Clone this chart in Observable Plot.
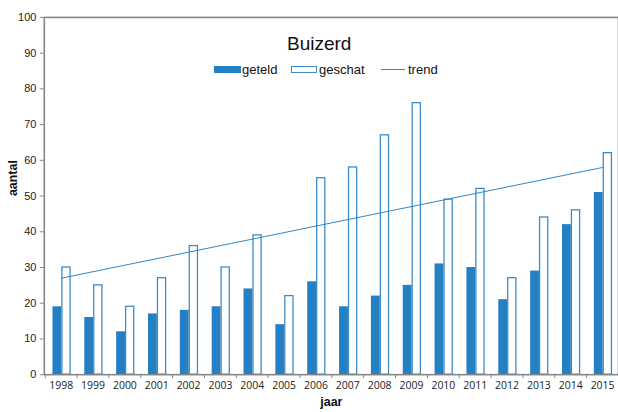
<!DOCTYPE html>
<html>
<head>
<meta charset="utf-8">
<script src="https://cdn.jsdelivr.net/npm/d3@7"></script>
<script src="https://cdn.jsdelivr.net/npm/@observablehq/plot@0.6"></script>
<style>
  html, body { margin: 0; padding: 0; background: #fff; overflow: hidden; }
  #wrap { position: relative; width: 618px; height: 412px; overflow: hidden; }
  .ov { position: absolute; font-family: "Liberation Sans", Arial, sans-serif; color: #111; white-space: nowrap; }
  .title { font-size: 19px; }
  .leg { font-size: 13px; }
  .sw { position: absolute; box-sizing: border-box; }
</style>
</head>
<body>
<div id="wrap">
  <div id="chart"></div>
  <div class="ov title" style="left:287px; top:33px;">Buizerd</div>
  <div class="sw" style="left:214px; top:66px; width:27px; height:7px; background:#2580c3;"></div>
  <div class="ov leg" style="left:242px; top:62px;">geteld</div>
  <div class="sw" style="left:291px; top:66px; width:26px; height:7px; border:1.3px solid #3d8bc9; background:#fff;"></div>
  <div class="ov leg" style="left:319px; top:62px;">geschat</div>
  <div class="sw" style="left:381px; top:69px; width:24px; height:1px; background:#2e86c9;"></div>
  <div class="ov leg" style="left:408px; top:62px;">trend</div>
</div>
<script>
const years = [1998,1999,2000,2001,2002,2003,2004,2005,2006,2007,2008,2009,2010,2011,2012,2013,2014,2015];
const geteld = [19,16,12,17,18,19,24,14,26,19,22,25,31,30,21,29,42,51];
const geschat = [30,25,19,27,36,30,39,22,55,58,67,76,49,52,27,44,46,62];
const trendYears = [1998, 2015];
const trendValues = [27, 58];
const yTicks = [0,10,20,30,40,50,60,70,80,90,100];

const getData = years.map((y, i) => ({year: String(y), value: geteld[i]}));
const schatData = years.map((y, i) => ({year: String(y), value: geschat[i]}));
const trendData = trendYears.map((y, i) => ({year: String(y), value: trendValues[i]}));

const chart = Plot.plot({
  width: 621,
  height: 412,
  marginLeft: 44,
  marginRight: 0,
  marginTop: 17,
  marginBottom: 36,
  style: {fontFamily: "Liberation Sans, Arial, sans-serif", color: "#222", background: "#fff"},
  x: {type: "band", domain: years.map(String), padding: 0},
  y: {domain: [0, 100]},
  marks: [
    Plot.barY(getData, {x: "year", y: "value", fill: "#2580c3", insetLeft: 7.7, insetRight: 15.4}),
    Plot.barY(schatData, {x: "year", y: "value", fill: "#fff", stroke: "#3d8bc9", strokeWidth: 1.3, insetLeft: 17.2, insetRight: 6.6}),
    Plot.line(trendData, {x: "year", y: "value", stroke: "#2e86c9", strokeWidth: 1}),
    Plot.frame({stroke: "#858585", strokeWidth: 1.6}),
    Plot.axisY({ticks: yTicks, tickSize: 4, tickPadding: 4, fontSize: 11, label: null, stroke: "#858585"}),
    Plot.axisX({tickSize: 0, tickPadding: 7, fontSize: 10.5, fontFamily: "Open Sans, sans-serif", label: null}),
    Plot.axisX({tickSize: 4, tickFormat: () => "", dx: -16.05, label: null, stroke: "#858585"}),
    Plot.text(["aantal"], {frameAnchor: "left", dx: -31, rotate: -90, fontWeight: "bold", fontSize: 12.5, fill: "#111"}),
    Plot.text(["jaar"], {frameAnchor: "bottom", dy: 31, fontWeight: "bold", fontSize: 12.5, fill: "#111"})
  ]
});
document.getElementById("chart").appendChild(chart);
</script>
</body>
</html>
